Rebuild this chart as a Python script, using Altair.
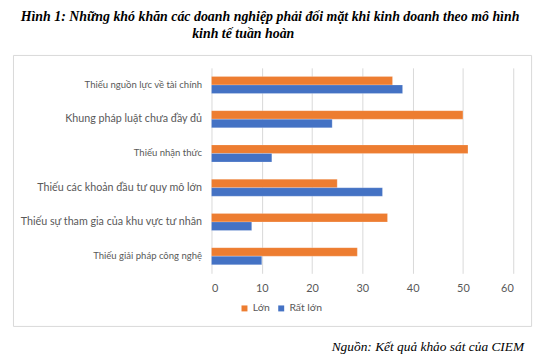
import altair as alt
import pandas as pd

categories = [
    "Thiếu nguồn lực về tài chính",
    "Khung pháp luật chưa đầy đủ",
    "Thiếu nhận thức",
    "Thiếu các khoản đầu tư quy mô lớn",
    "Thiếu sự tham gia của khu vực tư nhân",
    "Thiếu giải pháp công nghệ",
]
series_names = ["Lớn", "Rất lớn"]
lon = [36, 50, 51, 25, 35, 29]
rat_lon = [38, 24, 12, 34, 8, 10]
x_ticks = [0, 10, 20, 30, 40, 50, 60]

title_line1 = "Hình 1: Những khó khăn các doanh nghiệp phải đối mặt khi kinh doanh theo mô hình"
title_line2 = "kinh tế tuần hoàn"
source_text = "Nguồn: Kết quả khảo sát của CIEM"

rows = []
for c, a, b in zip(categories, lon, rat_lon):
    rows.append({"cat": c, "series": series_names[0], "value": a})
    rows.append({"cat": c, "series": series_names[1], "value": b})
df = pd.DataFrame(rows)

W, H = 304, 207

frame = alt.Chart(pd.DataFrame({"k": [0]})).mark_rect(
    fillOpacity=0, stroke="#d9d9d9", strokeWidth=1
).encode(
    x=alt.value(-199.5), x2=alt.value(322.5),
    y=alt.value(-12.5), y2=alt.value(260.5),
)

bars = alt.Chart(df).mark_bar(stroke="white", strokeOpacity=0.35, strokeWidth=0.6).encode(
    y=alt.Y(
        "cat:N", sort=categories, title=None,
        scale=alt.Scale(paddingInner=0.5, paddingOuter=0.25),
        axis=alt.Axis(
            domain=False, ticks=False, labelColor="#595959",
            labelFontSize={"expr": "indexof(['Khung pháp luật chưa đầy đủ','Thiếu các khoản đầu tư quy mô lớn','Thiếu sự tham gia của khu vực tư nhân'], datum.value) >= 0 ? 10.8 : 9.6"},
            labelFont="Lato", labelPadding=10, labelLimit=300,
        ),
    ),
    x=alt.X(
        "value:Q", title=None,
        scale=alt.Scale(domain=[0, 60], nice=False),
        axis=alt.Axis(
            values=x_ticks, domain=False, ticks=False, gridColor="#d9d9d9",
            gridWidth=1, labelColor="#595959", labelFontSize=11,
            labelFont="Lato", labelPadding=9,
        ),
    ),
    yOffset=alt.YOffset("series:N", sort=series_names),
    color=alt.Color(
        "series:N", sort=series_names,
        scale=alt.Scale(domain=series_names, range=["#ED7D31", "#4472C4"]),
        legend=alt.Legend(
            title=None, orient="none", legendX=28, legendY=237, direction="horizontal",
            symbolType="square", symbolSize=36, symbolStrokeWidth=0,
            labelFontSize=10.5, labelColor="#595959", labelFont="Lato",
            columnPadding=6, labelOffset=3,
        ),
    ),
)

t1 = alt.Chart(pd.DataFrame({"t": [title_line1]})).mark_text(
    font="Liberation Serif", fontStyle="italic", fontWeight="bold", fontSize=14,
    align="center", baseline="alphabetic", color="black",
).encode(text="t:N", x=alt.value(272 - 213), y=alt.value(20 - 67))

t2 = alt.Chart(pd.DataFrame({"t": [title_line2]})).mark_text(
    font="Liberation Serif", fontStyle="italic", fontWeight="bold", fontSize=14,
    align="center", baseline="alphabetic", color="black",
).encode(text="t:N", x=alt.value(245 - 213), y=alt.value(37 - 67))

src = alt.Chart(pd.DataFrame({"t": [source_text]})).mark_text(
    font="Liberation Serif", fontStyle="italic", fontSize=13.5,
    align="right", baseline="alphabetic", color="black",
).encode(text="t:N", x=alt.value(528 - 213), y=alt.value(352 - 67))

chart = alt.layer(frame, bars, t1, t2, src).properties(
    width=W, height=H,
    autosize=alt.AutoSizeParams(type="none"),
    padding={"left": 205, "top": 59, "right": 30, "bottom": 81},
).configure_view(stroke=None).configure_axis(labelFontWeight="normal")

chart.save("out.html", embed_options={"renderer": "svg", "actions": False})
